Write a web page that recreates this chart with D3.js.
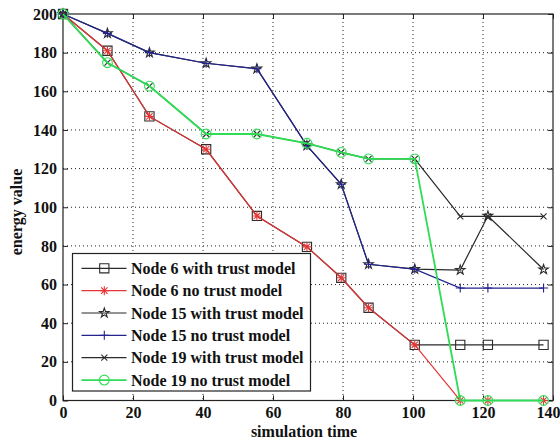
<!DOCTYPE html>
<html>
<head>
<meta charset="utf-8">
<script src="https://cdn.jsdelivr.net/npm/d3@7"></script>
<style>
html,body{margin:0;padding:0;background:#fff;}
svg{display:block;}
text{font-family:"Liberation Serif","DejaVu Serif",serif;font-weight:bold;font-size:16px;fill:#111;}
</style>
</head>
<body>
<svg id="chart" width="560" height="441"></svg>
<script>
// ---- data ----
const times = [0, 12.7, 24.7, 40.9, 55.4, 69.7, 79.5, 87.3, 100.5, 113.5, 121.4, 137.3];
const node6With  = [200, 181, 147, 130, 95.5, 79.5, 63.5, 48, 28.8, 28.8, 28.8, 28.8];
const node6No    = [200, 181, 147, 130, 95.5, 79.5, 63.5, 48, 28.8, 0, 0, 0];
const node15With = [200, 190, 180, 174.5, 171.7, 131.9, 111.9, 70.5, 68, 67.5, 95.5, 67.8];
const node15No   = [200, 190, 180, 174.5, 171.7, 131.9, 111.9, 70.5, 68, 58.2, 58.2, 58.2];
const node19With = [200, 174.8, 162.7, 137.9, 137.9, 133.1, 128.4, 125, 125, 95.3, 95.3, 95.3];
const node19No   = [200, 174.8, 162.7, 137.9, 137.9, 133.1, 128.4, 125, 125, 0, 0, 0];
const seriesNames = ["Node 6 with trust model","Node 6 no trust model","Node 15 with trust model",
                     "Node 15 no trust model","Node 19 with trust model","Node 19 no trust model"];
const xTicks = [0,20,40,60,80,100,120,140];
const yTicks = [0,20,40,60,80,100,120,140,160,180,200];

const series = [
  {name: seriesNames[0], values: node6With,  color:"#2b2b2b", marker:"square", width:1.2},
  {name: seriesNames[1], values: node6No,    color:"#e53535", marker:"asterisk", width:1.2},
  {name: seriesNames[2], values: node15With, color:"#2b2b2b", marker:"star", width:1.2},
  {name: seriesNames[3], values: node15No,   color:"#23238f", marker:"plus", width:1.2},
  {name: seriesNames[4], values: node19With, color:"#2b2b2b", marker:"x", width:1.2},
  {name: seriesNames[5], values: node19No,   color:"#2fdc55", marker:"circle", width:1.8}
];

const svg = d3.select("#chart");
const L=63, R=553, T=14, B=400.5;
const x = d3.scaleLinear().domain([0,140]).range([L,R]);
const y = d3.scaleLinear().domain([0,200]).range([B,T]);

svg.append("rect").attr("width",560).attr("height",441).attr("fill","#fff");

// grid
const grid = svg.append("g");
grid.selectAll("line.gx").data(xTicks.slice(1,-1)).join("line")
  .attr("x1",d=>x(d)).attr("x2",d=>x(d)).attr("y1",T).attr("y2",B)
  .attr("stroke","#222").attr("stroke-width",1).attr("stroke-dasharray","1,3");
grid.selectAll("line.gy").data(yTicks.slice(1,-1)).join("line")
  .attr("y1",d=>y(d)).attr("y2",d=>y(d)).attr("x1",L).attr("x2",R)
  .attr("stroke","#222").attr("stroke-width",1).attr("stroke-dasharray","1,3");

// axes
function styleAxis(g){
  g.select(".domain").remove();
  g.selectAll(".tick line").attr("stroke","#222");
  g.selectAll(".tick text").attr("font-family",null).attr("font-size",null).attr("fill","#111");
}
const xAxisG = svg.append("g").attr("transform",`translate(0,${B})`)
  .call(d3.axisBottom(x).tickValues(xTicks).tickSizeInner(-5).tickSizeOuter(0).tickPadding(6))
  .call(styleAxis);
// keep the last label inside the picture
xAxisG.selectAll(".tick text").filter(d=>d===140).attr("text-anchor","end").attr("x",7);
svg.append("g").attr("transform",`translate(0,${T})`)
  .call(d3.axisTop(x).tickValues(xTicks).tickSizeInner(-5).tickSizeOuter(0).tickFormat(""))
  .call(styleAxis);
svg.append("g").attr("transform",`translate(${L},0)`)
  .call(d3.axisLeft(y).tickValues(yTicks).tickSizeInner(-5).tickSizeOuter(0).tickPadding(6))
  .call(styleAxis);
svg.append("g").attr("transform",`translate(${R},0)`)
  .call(d3.axisRight(y).tickValues(yTicks).tickSizeInner(-5).tickSizeOuter(0).tickFormat(""))
  .call(styleAxis);

svg.append("rect").attr("x",L).attr("y",T).attr("width",R-L).attr("height",B-T)
  .attr("fill","none").attr("stroke","#222").attr("stroke-width",1.2);

// markers
function markerPath(type){
  switch(type){
    case "square": return d3.symbol(d3.symbolSquare, 85)();
    case "circle": return d3.symbol(d3.symbolCircle, 75)();
    case "star": return d3.symbol(d3.symbolStar, 28)();
    case "plus": return "M-4.5,0H4.5M0,-4.5V4.5";
    case "x": return "M-3,-3L3,3M-3,3L3,-3";
    case "asterisk": return "M-4.5,0H4.5M0,-4.5V4.5M-3.2,-3.2L3.2,3.2M-3.2,3.2L3.2,-3.2";
  }
}
function drawMarker(g, type, color){
  g.append("path").attr("d", markerPath(type))
    .attr("fill","none").attr("stroke",color).attr("stroke-width",1.1);
}

const line = d3.line().x(d=>x(d[0])).y(d=>y(d[1]));
series.forEach(s=>{
  const pts = times.map((t,i)=>[t, s.values[i]]);
  const g = svg.append("g");
  g.append("path").datum(pts).attr("d",line).attr("fill","none")
    .attr("stroke",s.color).attr("stroke-width",s.width);
  g.selectAll("g.m").data(pts).join("g")
    .attr("transform",d=>`translate(${x(d[0])},${y(d[1])})`)
    .each(function(){ drawMarker(d3.select(this), s.marker, s.color); });
});

// legend
const lg = svg.append("g");
lg.append("rect").attr("x",72.5).attr("y",253.5).attr("width",238).attr("height",137.5)
  .attr("fill","#fff").attr("stroke","#222").attr("stroke-width",1.2);
series.forEach((s,i)=>{
  const yy = 268.3 + i*22.35;
  lg.append("line").attr("x1",81.5).attr("x2",126.5).attr("y1",yy).attr("y2",yy)
    .attr("stroke",s.color).attr("stroke-width",s.width);
  const mg = lg.append("g").attr("transform",`translate(104.3,${yy})`);
  drawMarker(mg, s.marker, s.color);
  lg.append("text").attr("x",131).attr("y",yy).attr("dy","0.35em").text(s.name);
});

// axis labels
svg.append("text").attr("x",304).attr("y",437).attr("text-anchor","middle").text("simulation time");
svg.append("text").attr("transform","translate(22,212) rotate(-90)").attr("text-anchor","middle").text("energy value");
</script>
</body>
</html>
